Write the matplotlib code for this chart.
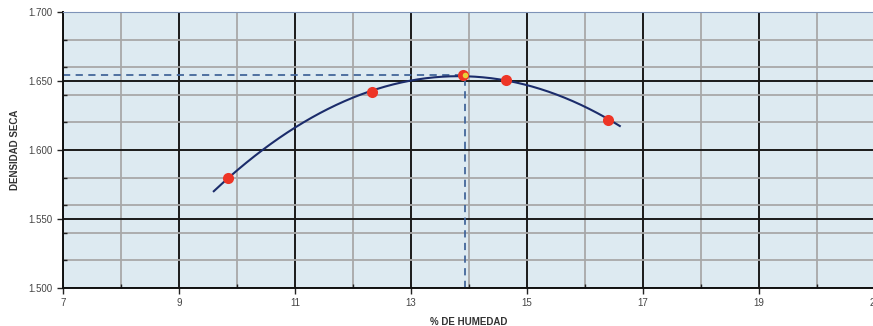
import matplotlib
matplotlib.use('Agg')
import matplotlib.pyplot as plt
import numpy as np
from matplotlib.ticker import MultipleLocator, FormatStrFormatter

# lab data: moisture (%) vs dry density
humedad = [9.85, 12.33, 13.90, 14.64, 16.40]
densidad = [1.580, 1.642, 1.654, 1.651, 1.622]
opt_hum = 13.93
opt_dens = 1.6543
curve_range = (9.6, 16.6)

plt.rcParams['font.family'] = ['Liberation Sans', 'DejaVu Sans']

fig = plt.figure(figsize=(8.73, 3.26), dpi=100)
ax = fig.add_axes([63/873, 38/326, 812/873, 276/326])
ax.set_facecolor('#DDEAF1')

ax.set_xlim(7, 21)
ax.set_ylim(1.5, 1.7)
ax.xaxis.set_major_locator(MultipleLocator(2, offset=1))
ax.xaxis.set_minor_locator(MultipleLocator(2))
ax.yaxis.set_major_locator(MultipleLocator(0.05))
ax.yaxis.set_minor_locator(MultipleLocator(0.02))
ax.yaxis.set_major_formatter(FormatStrFormatter('%.3f'))

ax.grid(which='minor', color='#A8A8A8', lw=1.3, zorder=0)
ax.grid(which='major', color='#1A1A1A', lw=1.4, zorder=0)
ax.set_axisbelow(True)

# 2nd order trendline through the points
coef = np.polyfit(humedad, densidad, 2)
xc = np.linspace(curve_range[0], curve_range[1], 200)
ax.plot(xc, np.polyval(coef, xc), color='#1B2C6B', lw=1.5, zorder=3)

ax.plot([7, opt_hum], [opt_dens, opt_dens], ls=(0, (4, 3)), color='#44679A', lw=1.3, zorder=2)
ax.plot([opt_hum, opt_hum], [1.5, opt_dens], ls=(0, (4, 3)), color='#44679A', lw=1.3, zorder=2)

ax.plot(humedad, densidad, 'o', color='#EE3526', ms=8, mec='none', zorder=4)
ax.plot([opt_hum], [opt_dens], 'o', color='#E8D23A', ms=4, mec='none', zorder=5)

for s in ['left', 'bottom']:
    ax.spines[s].set_color('#111111')
    ax.spines[s].set_linewidth(1.4)
ax.spines['top'].set_color('#7E93B8')
ax.spines['right'].set_visible(False)

ax.tick_params(which='major', direction='out', length=4, width=1, colors='#222222',
               labelsize=7, labelcolor='#444444')
ax.tick_params(which='minor', direction='in', length=3, width=1, colors='#222222')

ax.set_ylabel('DENSIDAD SECA', fontsize=7, fontweight='bold', color='#333333', labelpad=6)
ax.set_xlabel('% DE HUMEDAD', fontsize=7, fontweight='bold', color='#333333', labelpad=6)

fig.savefig('out.png', dpi=100)
